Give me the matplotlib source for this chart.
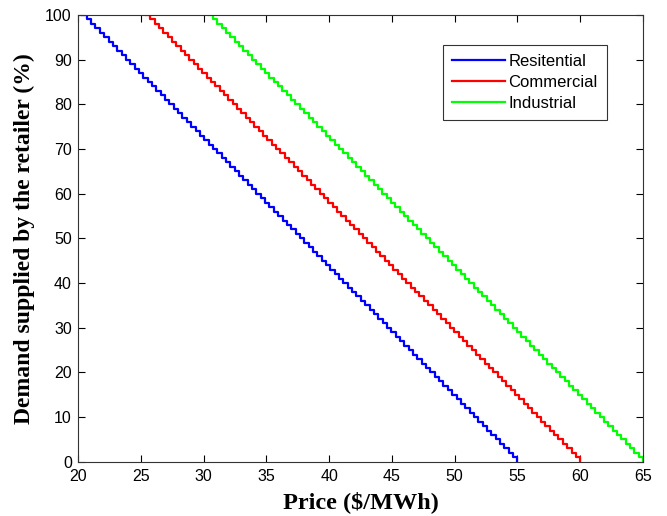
import numpy as np
import matplotlib.pyplot as plt

# demand levels in 1% steps
demand = np.arange(100, -1, -1)

sectors = ['Resitential', 'Commercial', 'Industrial']
colors = ['#0000ff', '#ff0000', '#00ff00']
# offer price at 100% supplied and at 0% supplied ($/MWh)
price_full = [20.35, 25.4, 30.4]
price_zero = [55.0, 60.0, 65.0]

fig = plt.figure(figsize=(6.67, 5.16), dpi=100)
ax = fig.add_axes([0.117, 0.105, 0.847, 0.866])

for name, c, p0, p1 in zip(sectors, colors, price_full, price_zero):
    price = np.linspace(p0, p1, len(demand))
    ax.step(price, demand, where='post', color=c, lw=1.6, label=name)

ax.set_xlim(20, 65)
ax.set_ylim(0, 100)
ax.set_xticks(np.arange(20, 66, 5))
ax.set_yticks(np.arange(0, 101, 10))
ax.tick_params(direction='in', top=True, right=True, labelsize=11.5, length=5)
ax.tick_params(axis='x', pad=5.5)
ax.tick_params(axis='y', pad=4.5)
for lab in ax.get_xticklabels() + ax.get_yticklabels():
    lab.set_fontfamily('Liberation Sans')
for s in ax.spines.values():
    s.set_linewidth(0.8)
    s.set_color('#333333')

ax.set_xlabel('Price ($/MWh)', fontfamily='Liberation Serif', fontweight='bold', fontsize=17.5, labelpad=5)
ax.set_ylabel('Demand supplied by the retailer (%)', fontfamily='Liberation Serif', fontweight='bold', fontsize=17, labelpad=7)

leg = ax.legend(loc='upper right', bbox_to_anchor=(0.936, 0.933), borderaxespad=0, fancybox=False,
                edgecolor='black', prop={'family': 'Liberation Sans', 'size': 12}, handlelength=3.2,
                handletextpad=0.2, borderpad=0.55, labelspacing=0.35)
leg.get_frame().set_linewidth(0.8)

fig.savefig('out.png', dpi=100)
